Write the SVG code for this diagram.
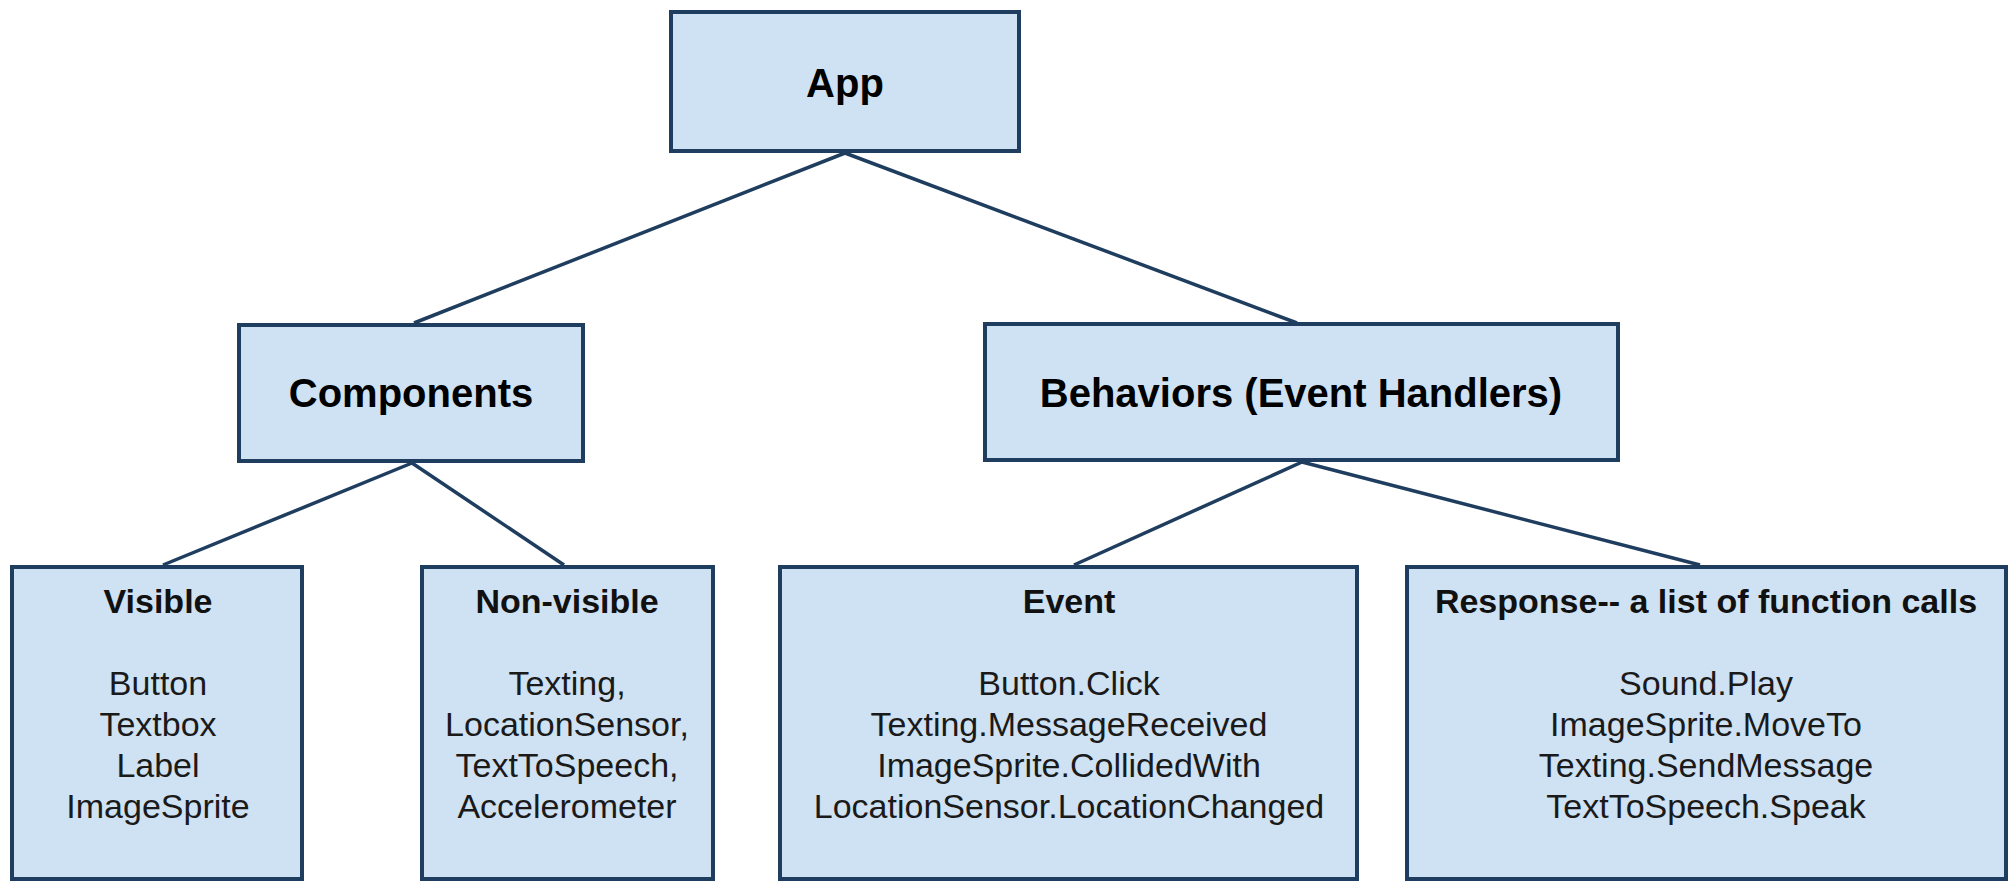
<svg xmlns="http://www.w3.org/2000/svg" width="2010" height="882" viewBox="0 0 2010 882">
<style>
.box{fill:#cfe2f3;stroke:#1f3d5e;stroke-width:4}
.conn{stroke:#1f3d5e;stroke-width:3.5;fill:none}
.t{font-family:"Liberation Sans",Arial,sans-serif;text-anchor:middle}
.h1{font-size:40px;font-weight:bold;fill:#000}
.h2{font-size:34px;font-weight:bold;fill:#111}
.b{font-size:34px;fill:#1a1a1a}
</style>
<rect width="2010" height="882" fill="#ffffff"/>
<g id="connectors">
<line class="conn" x1="845" y1="153" x2="414" y2="323"/>
<line class="conn" x1="845" y1="153" x2="1297" y2="323"/>
<line class="conn" x1="412" y1="463" x2="163" y2="565"/>
<line class="conn" x1="412" y1="463" x2="564" y2="565"/>
<line class="conn" x1="1302" y1="462" x2="1074" y2="565"/>
<line class="conn" x1="1302" y1="462" x2="1700" y2="565"/>
</g>
<g id="app">
<rect class="box" x="671" y="12" width="348" height="139"/>
<text class="t h1" x="845" y="97">App</text>
</g>
<g id="components">
<rect class="box" x="239" y="325" width="344" height="136"/>
<text class="t h1" x="411" y="407">Components</text>
</g>
<g id="behaviors">
<rect class="box" x="985" y="324" width="633" height="136"/>
<text class="t h1" x="1301" y="407">Behaviors (Event Handlers)</text>
</g>
<g id="visible">
<rect class="box" x="12" y="567" width="290" height="312"/>
<text class="t h2" x="158" y="613">Visible</text>
<text class="t b" x="158" y="695">Button</text>
<text class="t b" x="158" y="736">Textbox</text>
<text class="t b" x="158" y="777">Label</text>
<text class="t b" x="158" y="818">ImageSprite</text>
</g>
<g id="nonvisible">
<rect class="box" x="422" y="567" width="291" height="312"/>
<text class="t h2" x="567" y="613">Non-visible</text>
<text class="t b" x="567" y="695">Texting,</text>
<text class="t b" x="567" y="736">LocationSensor,</text>
<text class="t b" x="567" y="777">TextToSpeech,</text>
<text class="t b" x="567" y="818">Accelerometer</text>
</g>
<g id="event">
<rect class="box" x="780" y="567" width="577" height="312"/>
<text class="t h2" x="1069" y="613">Event</text>
<text class="t b" x="1069" y="695">Button.Click</text>
<text class="t b" x="1069" y="736">Texting.MessageReceived</text>
<text class="t b" x="1069" y="777">ImageSprite.CollidedWith</text>
<text class="t b" x="1069" y="818">LocationSensor.LocationChanged</text>
</g>
<g id="response">
<rect class="box" x="1407" y="567" width="599" height="312"/>
<text class="t h2" x="1706" y="613">Response-- a list of function calls</text>
<text class="t b" x="1706" y="695">Sound.Play</text>
<text class="t b" x="1706" y="736">ImageSprite.MoveTo</text>
<text class="t b" x="1706" y="777">Texting.SendMessage</text>
<text class="t b" x="1706" y="818">TextToSpeech.Speak</text>
</g>
</svg>
